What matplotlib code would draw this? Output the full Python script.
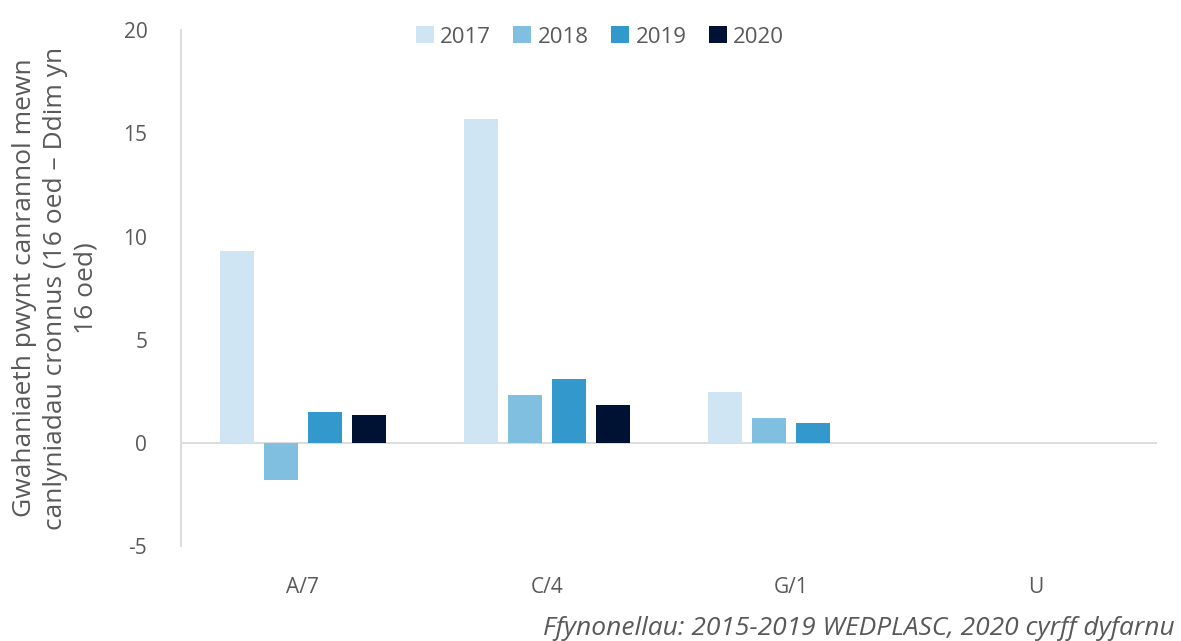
import matplotlib.pyplot as plt
import numpy as np

# Data
categories = ['A/7', 'C/4', 'G/1', 'U']
years = ['2017', '2018', '2019', '2020']
vals_2017 = [9.3, 15.7, 2.45, 0]
vals_2018 = [-1.8, 2.3, 1.2, 0]
vals_2019 = [1.5, 3.1, 0.95, 0]
vals_2020 = [1.35, 1.85, 0, 0]

colors = ['#cfe5f3', '#80bfdf', '#3399cc', '#001233']
text_color = '#595959'

plt.rcParams['font.family'] = ['Open Sans', 'DejaVu Sans']
plt.rcParams['axes.unicode_minus'] = False

fig = plt.figure(figsize=(11.81, 6.41), dpi=100)
ax = fig.add_axes([0.153, 0.148, 0.827, 0.805])

x = np.arange(len(categories))
width = 0.14
step = 0.18
series = [vals_2017, vals_2018, vals_2019, vals_2020]
for i, (yr, vals) in enumerate(zip(years, series)):
    ax.bar(x + (i - 1.5) * step, vals, width, color=colors[i], label=yr)

ax.set_xlim(-0.5, len(categories) - 0.5)
ax.set_ylim(-5, 20)
ax.set_yticks([-5, 0, 5, 10, 15, 20])
ax.set_xticks(x)
ax.set_xticklabels(categories)
ax.axhline(0, color='#d9d9d9', lw=1.3, zorder=0)

for s in ['top', 'right', 'bottom']:
    ax.spines[s].set_visible(False)
ax.spines['left'].set_color('#d9d9d9')
ax.spines['left'].set_linewidth(1.3)
ax.tick_params(axis='both', length=0, labelsize=15, colors=text_color)
ax.tick_params(axis='y', pad=24)
ax.tick_params(axis='x', pad=22)

ax.set_ylabel('Gwahaniaeth pwynt canrannol mewn\ncanlyniadau cronnus (16 oed \u2013 Ddim yn\n16 oed)',
              fontsize=19, color=text_color, linespacing=1.3, labelpad=18)

fig.legend(ncol=4, loc='upper center', bbox_to_anchor=(0.508, 0.99), frameon=False,
           fontsize=16, labelcolor=text_color, handlelength=0.8, handleheight=0.8,
           handletextpad=0.3, columnspacing=1.0)

fig.text(0.995, 0.0, 'Ffynonellau: 2015-2019 WEDPLASC, 2020 cyrff dyfarnu',
         ha='right', va='bottom', fontsize=19, style='italic', color=text_color)

plt.savefig('out.png', dpi=100)
